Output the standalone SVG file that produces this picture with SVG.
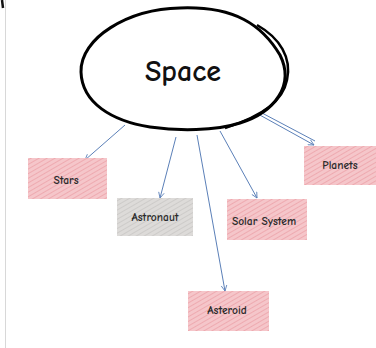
<svg xmlns="http://www.w3.org/2000/svg" width="376" height="348" viewBox="0 0 376 348">
<style>
.lbl{font-family:"Comic Neue","DejaVu Sans",sans-serif;font-size:11.5px;font-weight:bold;fill:#2a2a2a;text-anchor:middle}
.conn{stroke:#5b80b8;stroke-width:1;fill:none}
.pink{fill:url(#hp)}
.gray{fill:url(#hg)}
</style>
<defs>
<pattern id="hp" width="4" height="4" patternUnits="userSpaceOnUse" patternTransform="rotate(60)">
<rect width="4" height="4" fill="#f5c6ca"/>
<line x1="0" y1="0" x2="0" y2="4" stroke="#eda3aa" stroke-width="1.6"/>
</pattern>
<pattern id="hg" width="4" height="4" patternUnits="userSpaceOnUse" patternTransform="rotate(60)">
<rect width="4" height="4" fill="#dddbd9"/>
<line x1="0" y1="0" x2="0" y2="4" stroke="#c9c7c5" stroke-width="1.6"/>
</pattern>
<marker id="ar" viewBox="0 0 10 10" refX="9" refY="5" markerWidth="7" markerHeight="7" orient="auto-start-reverse">
<path d="M1,1 L9,5 L1,9" fill="none" stroke="#5b80b8" stroke-width="1.2"/>
</marker>
</defs>
<rect width="376" height="348" fill="#fff"/>
<line x1="5.5" y1="0" x2="5.5" y2="348" stroke="#d8d8d8" stroke-width="1"/>
<path d="M2,0 L3,8" stroke="#111" stroke-width="2.5"/>
<g id="connectors">
<path class="conn" d="M125,125 L85,160" marker-end="url(#ar)"/>
<path class="conn" d="M176,137 L160,198" marker-end="url(#ar)"/>
<path class="conn" d="M197,135 L225,291" marker-end="url(#ar)"/>
<path class="conn" d="M220,131 L257,198" marker-end="url(#ar)"/>
<path class="conn" d="M258,114 L314,145" marker-end="url(#ar)"/>
<path class="conn" d="M262,113 L315,141"/>
</g>
<g id="space">
<path d="M180,8 C235,6 262,25 280,55 C295,85 275,112 240,123 C215,131 178,131 150,127 C112,121 82,103 81,72 C80,38 128,9 180,8 Z" fill="#fff" stroke="#000" stroke-width="3"/>
<path d="M257,25 C280,38 292,58 287,80 C283,100 265,115 225,128" fill="none" stroke="#000" stroke-width="2.5"/>
<text x="183" y="81" style="font-family:'Comic Neue','DejaVu Sans',sans-serif;font-size:30px;font-weight:bold;fill:#111;text-anchor:middle">Space</text>
</g>
<g id="stars">
<rect class="pink" x="28" y="158" width="79" height="41"/>
<text class="lbl" x="66" y="184">Stars</text>
</g>
<g id="astronaut">
<rect class="gray" x="117" y="198" width="76" height="38"/>
<text class="lbl" x="155" y="221">Astronaut</text>
</g>
<g id="planets">
<rect class="pink" x="304" y="146" width="72" height="39"/>
<text class="lbl" x="340" y="169">Planets</text>
</g>
<g id="solar">
<rect class="pink" x="227" y="199" width="80" height="41"/>
<text class="lbl" x="264" y="225">Solar System</text>
</g>
<g id="asteroid">
<rect class="pink" x="188" y="291" width="81" height="40"/>
<text class="lbl" x="227" y="314">Asteroid</text>
</g>
</svg>
